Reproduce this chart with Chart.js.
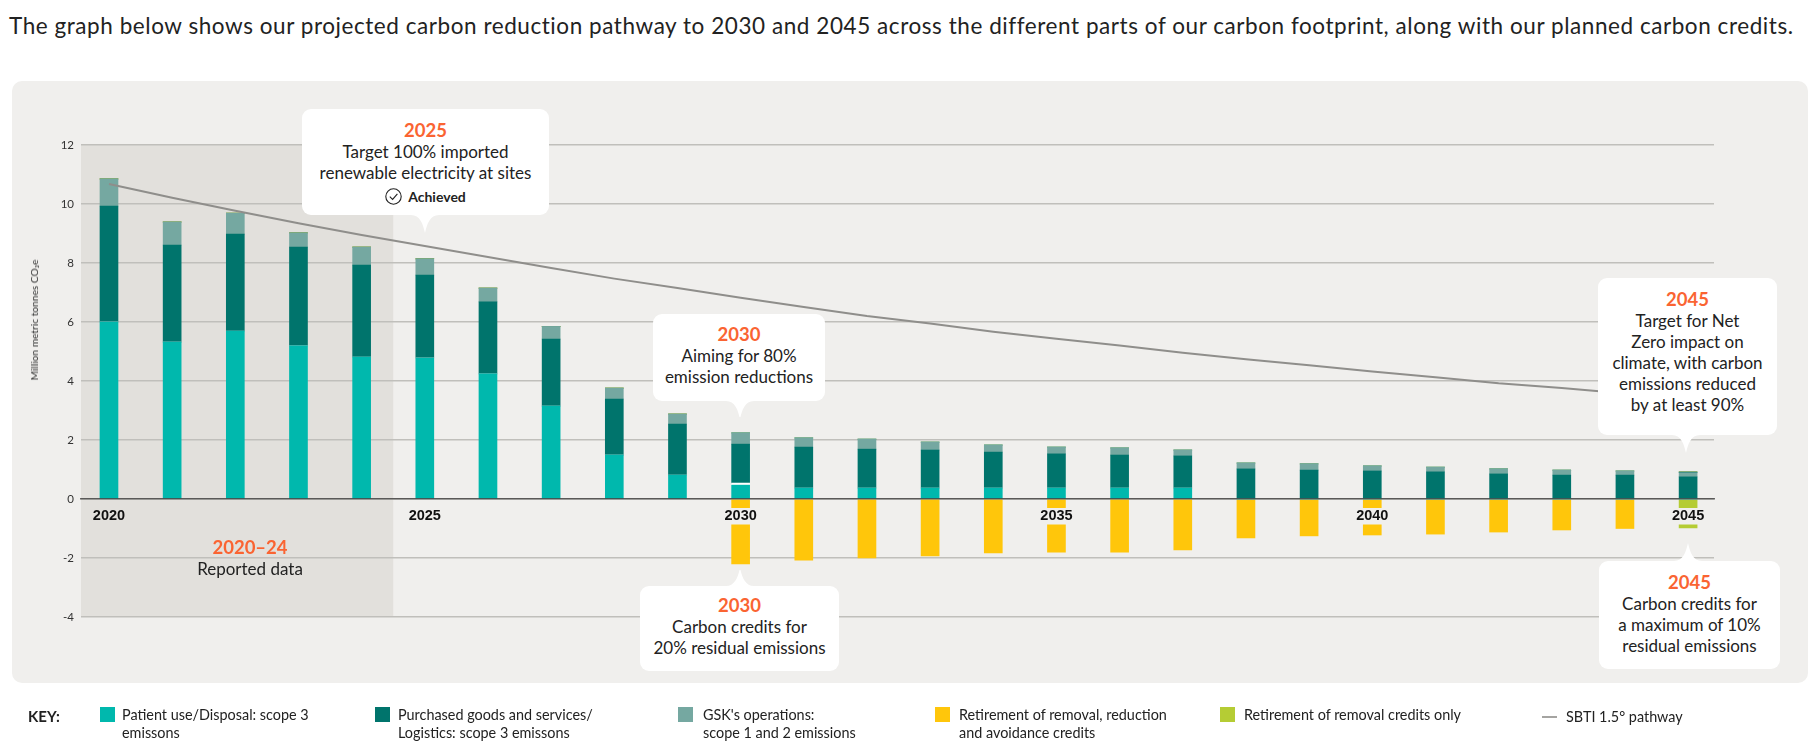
<!DOCTYPE html>
<html lang="en">
  <head>
    <meta charset="UTF-8" />
    <title>Carbon reduction pathway</title>
    <script src="https://cdn.jsdelivr.net/npm/chart.js"></script>
    <style>
      html, body { margin: 0; background: #fff; }
      body {
        position: relative;
        width: 1816px;
        height: 755px;
        overflow: hidden;
        font-family: Lato, sans-serif;
        color: #222;
      }
      h1 {
        position: absolute;
        left: 9px;
        top: 12px;
        margin: 0;
        font-size: 22.5px;
        letter-spacing: 0.56px;
        line-height: 27px;
        font-weight: 400;
        white-space: nowrap;
      }
      .panel {
        position: absolute;
        left: 12px;
        top: 81px;
        width: 1796px;
        height: 602px;
        background: #f0efed;
        border-radius: 10px;
      }
      canvas { position: absolute; left: 0; top: 0; }
      .callout {
        position: absolute;
        box-sizing: border-box;
        background: #fff;
        border-radius: 9px;
        text-align: center;
        font-size: 17px;
        line-height: 21px;
      }
      .year { display: block; color: #fa6432; font-weight: 700; font-size: 18.5px; }
      .tip {
        position: absolute;
        width: 28px;
        height: 18px;
        background: #fff;
        clip-path: path("M0 0 C9 0 12 9 14 18 C16 9 19 0 28 0 Z");
      }
      .tip.up { transform: scaleY(-1); }
      .achieved { display: inline-flex; align-items: center; gap: 6px; margin-top: 3px; font-size: 14px; font-weight: 700; }
      .note { position: absolute; left: 150px; top: 536px; width: 200px; text-align: center; font-size: 17px; line-height: 22px; }
      .ytitle {
        position: absolute;
        left: 34px;
        top: 320px;
        font-size: 10.2px;
        color: #333;
        white-space: nowrap;
        transform: translate(-50%, -50%) rotate(-90deg);
      }
      .key { position: absolute; font-size: 14.4px; line-height: 18px; white-space: nowrap; }
      .swatch { position: absolute; top: 707px; width: 15px; height: 15px; }
    </style>
  </head>
  <body>
    <h1>The graph below shows our projected carbon reduction pathway to 2030 and 2045 across the different parts of our carbon footprint, along with our planned carbon credits.</h1>
    <div class="panel"></div>
    <canvas id="chartCanvas" width="1816" height="755"></canvas>

    <div class="ytitle">Million metric tonnes CO₂e</div>
    <div class="note"><span class="year">2020–24</span>Reported data</div>

    <div class="callout" style="left:302px;top:109px;width:247px;height:106px;padding-top:11px">
      <span class="year">2025</span>Target 100% imported<br />renewable electricity at sites<br />
      <span class="achieved">
        <svg width="17" height="17" viewBox="0 0 17 17"><circle cx="8.5" cy="8.5" r="7.7" fill="none" stroke="#222" stroke-width="1.1" /><path d="M4.8 8.6 L7.6 11.4 L12.4 5.8" fill="none" stroke="#222" stroke-width="1.1" /></svg>
        Achieved
      </span>
    </div>
    <div class="tip" style="left:411px;top:215px"></div>

    <div class="callout" style="left:653px;top:314px;width:172px;height:87px;padding-top:10px">
      <span class="year">2030</span>Aiming for 80%<br />emission reductions
    </div>
    <div class="tip" style="left:726px;top:401px;height:16px"></div>

    <div class="callout" style="left:640px;top:586px;width:199px;height:85px;padding-top:9px">
      <span class="year">2030</span>Carbon credits for<br />20% residual emissions
    </div>
    <div class="tip up" style="left:726px;top:570px;height:16px"></div>

    <div class="callout" style="left:1598px;top:278px;width:179px;height:157px;padding-top:11px">
      <span class="year">2045</span>Target for Net<br />Zero impact on<br />climate, with carbon<br />emissions reduced<br />by at least 90%
    </div>
    <div class="tip" style="left:1672px;top:435px"></div>

    <div class="callout" style="left:1599px;top:561px;width:181px;height:108px;padding-top:11px">
      <span class="year">2045</span>Carbon credits for<br />a maximum of 10%<br />residual emissions
    </div>
    <div class="tip up" style="left:1674px;top:543px"></div>

    <div class="key" style="left:28px;top:707px;font-weight:700;font-size:15px">KEY:</div>
    <div class="swatch" style="left:100px;background:#00b8ad"></div>
    <div class="key" style="left:122px;top:706px">Patient use/Disposal: scope 3<br />emissons</div>
    <div class="swatch" style="left:375px;background:#00746c"></div>
    <div class="key" style="left:398px;top:706px">Purchased goods and services/<br />Logistics: scope 3 emissons</div>
    <div class="swatch" style="left:678px;background:#75a8a1"></div>
    <div class="key" style="left:703px;top:706px">GSK's operations:<br />scope 1 and 2 emissions</div>
    <div class="swatch" style="left:935px;background:#ffc60b"></div>
    <div class="key" style="left:959px;top:706px">Retirement of removal, reduction<br />and avoidance credits</div>
    <div class="swatch" style="left:1220px;background:#b5cc34"></div>
    <div class="key" style="left:1244px;top:706px">Retirement of removal credits only</div>
    <div style="position:absolute;left:1542px;top:716px;width:15px;height:2px;background:#a5a4a1"></div>
    <div class="key" style="left:1566px;top:708px">SBTI 1.5° pathway</div>

    <script>
      const years = [2020, 2021, 2022, 2023, 2024, 2025, 2026, 2027, 2028, 2029, 2030, 2031, 2032,
        2033, 2034, 2035, 2036, 2037, 2038, 2039, 2040, 2041, 2042, 2043, 2044, 2045];
      const tickYears = [2020, 2025, 2030, 2035, 2040, 2045];
      const patientUse = [6.0, 5.32, 5.69, 5.19, 4.81, 4.78, 4.24, 3.15, 1.49, 0.81, 0.47, 0.37, 0.37,
        0.37, 0.37, 0.37, 0.37, 0.37, 0, 0, 0, 0, 0, 0, 0, 0];
      // thin white gap in the 2030 bar
      const divider2030 = [0, 0, 0, 0, 0, 0, 0, 0, 0, 0, 0.07, 0, 0,
        0, 0, 0, 0, 0, 0, 0, 0, 0, 0, 0, 0, 0];
      const purchased = [3.93, 3.29, 3.29, 3.35, 3.12, 2.81, 2.44, 2.27, 1.9, 1.73, 1.32, 1.39, 1.32,
        1.29, 1.22, 1.16, 1.12, 1.09, 1.02, 0.98, 0.95, 0.92, 0.85, 0.81, 0.81, 0.75];
      const operations = [0.92, 0.78, 0.71, 0.48, 0.61, 0.55, 0.47, 0.43, 0.37, 0.34, 0.38, 0.31, 0.34,
        0.27, 0.24, 0.23, 0.24, 0.2, 0.2, 0.21, 0.17, 0.16, 0.17, 0.17, 0.14, 0.14];
      // 2045 has a sliver of dark green above the light one
      const purchasedCap = [0, 0, 0, 0, 0, 0, 0, 0, 0, 0, 0, 0, 0,
        0, 0, 0, 0, 0, 0, 0, 0, 0, 0, 0, 0, 0.03];
      const mixedCredits = [0, 0, 0, 0, 0, 0, 0, 0, 0, 0, -2.2, -2.07, -2.0,
        -1.93, -1.83, -1.8, -1.8, -1.73, -1.32, -1.25, -1.22, -1.19, -1.12, -1.05, -1.0, 0];
      const removalCredits = [0, 0, 0, 0, 0, 0, 0, 0, 0, 0, 0, 0, 0,
        0, 0, 0, 0, 0, 0, 0, 0, 0, 0, 0, 0, -0.98];
      const sbtiPathway = [10.68, 10.21, 9.77, 9.35, 8.95, 8.58, 8.2, 7.83, 7.47, 7.15, 6.82, 6.51, 6.2,
        5.95, 5.67, 5.43, 5.2, 4.96, 4.74, 4.53, 4.32, 4.13, 3.92, 3.76, 3.58, 3.4];
      const PANEL = "#f0efed";
      const SHADE = "#e2e0dc";

      const reportedShade = {
        id: "reportedShade",
        beforeDraw(chart) {
          const { ctx, chartArea, scales } = chart;
          const right = scales.x.getPixelForValue(2024.5);
          ctx.save();
          ctx.fillStyle = SHADE;
          ctx.fillRect(chartArea.left, chartArea.top, right - chartArea.left, chartArea.bottom - chartArea.top);
          ctx.restore();
        },
      };

      function barSet(label, data, color) {
        return { type: "bar", label, data, backgroundColor: color, barThickness: 18, order: 2 };
      }

      new Chart(document.getElementById("chartCanvas"), {
        data: {
          labels: years,
          datasets: [
            { type: "line", label: "SBTI 1.5° pathway", data: sbtiPathway, borderColor: "#8f8e8b", borderWidth: 2, pointRadius: 0, tension: 0, order: 1 },
            barSet("Patient use/Disposal: scope 3 emissons", patientUse, "#00b8ad"),
            barSet("Divider", divider2030, "#ffffff"),
            barSet("Purchased goods and services/Logistics: scope 3 emissons", purchased, "#00746c"),
            barSet("GSK's operations: scope 1 and 2 emissions", operations, "#75a8a1"),
            barSet("Purchased goods cap", purchasedCap, "#00746c"),
            barSet("Retirement of removal, reduction and avoidance credits", mixedCredits, "#ffc60b"),
            barSet("Retirement of removal credits only", removalCredits, "#b5cc34"),
          ],
        },
        options: {
          responsive: false,
          animation: false,
          devicePixelRatio: 1,
          layout: { padding: { left: 45, right: 102, top: 145, bottom: 138 } },
          plugins: { legend: { display: false }, tooltip: { enabled: false } },
          scales: {
            x: {
              type: "linear",
              position: { y: 0 },
              stacked: true,
              offset: false,
              bounds: "data",
              min: 2019.557,
              max: 2045.41,
              afterBuildTicks: (scale) => { scale.ticks = tickYears.map((value) => ({ value })); },
              grid: { display: false },
              border: { display: true, color: "rgba(50,50,50,0.72)", width: 1.5, z: 1 },
              ticks: {
                autoSkip: false,
                maxRotation: 0,
                padding: 2,
                z: 2,
                color: "#111",
                font: { family: "Liberation Sans", size: 14.5, weight: "bold", lineHeight: 1 },
                showLabelBackdrop: true,
                backdropColor: (c) => (c.tick && c.tick.value < 2025 ? SHADE : PANEL),
                backdropPadding: { x: 1, y: 1 },
                callback: (v) => String(v),
              },
            },
            y: {
              stacked: true,
              min: -4,
              max: 12,
              afterFit: (scale) => { scale.width = 36; },
              grid: { color: "#c0bfbb", lineWidth: 1.5, drawTicks: false },
              border: { display: false },
              ticks: {
                stepSize: 2,
                padding: 7,
                color: "#333",
                font: { family: "Lato", size: 11.5 },
              },
            },
          },
        },
        plugins: [reportedShade],
      });
    </script>
  </body>
</html>
